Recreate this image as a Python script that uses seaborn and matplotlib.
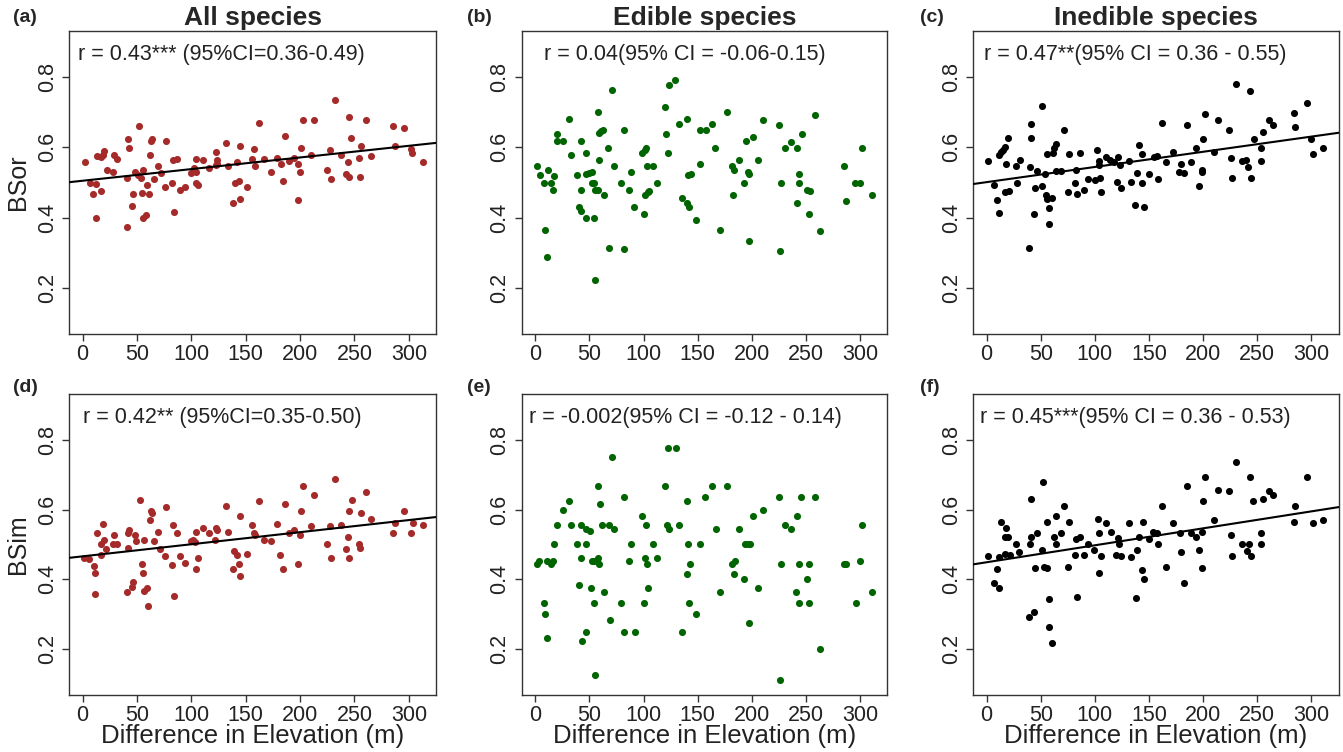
import matplotlib
matplotlib.use("Agg")
import matplotlib.pyplot as plt
import seaborn as sns
import pandas as pd

# ---------------- data ----------------
titles = ["All species", "Edible species", "Inedible species"]
row_labels = ["BSor", "BSim"]
panel_letters = ["(a)", "(b)", "(c)", "(d)", "(e)", "(f)"]
annotations = [
    "r = 0.43*** (95%CI=0.36-0.49)",
    "r = 0.04(95% CI = -0.06-0.15)",
    "r = 0.47**(95% CI = 0.36 - 0.55)",
    "r = 0.42** (95%CI=0.35-0.50)",
    "r = -0.002(95% CI = -0.12 - 0.14)",
    "r = 0.45***(95% CI = 0.36 - 0.53)",
]
xlabel = "Difference in Elevation (m)"
x_ticks = [0, 50, 100, 150, 200, 250, 300]
y_ticks = [0.2, 0.4, 0.6, 0.8]

# regression lines (intercept, slope)
line_intercepts = [0.505, None, 0.501, 0.466, None, 0.449]
line_slopes = [0.000332, None, 0.000433, 0.000347, None, 0.000487]

all_bsor = [(2,0.558),(7,0.50),(12,0.495),(10,0.466),(12,0.40),(13,0.575),(17,0.573),(19,0.577),
    (20,0.589),(17,0.475),(22,0.537),(28,0.529),(29,0.577),(32,0.566),(40.5,0.372),(41,0.514),
    (42,0.625),(43,0.599),(45,0.433),(46,0.468),(48,0.53),(51,0.521),(52,0.66),(54,0.513),
    (55,0.47),(56,0.535),(56,0.40),(58.5,0.406),(59,0.494),(61,0.466),(62,0.578),(62.5,0.618),
    (64,0.623),(65.5,0.511),(69.5,0.547),(72,0.526),(75.6,0.487),(76.5,0.619),(82,0.50),
    (83,0.564),(84,0.416),(87,0.568),(90,0.479),(94,0.487),(100,0.526),(102,0.54),(104,0.53),
    (104.5,0.567),(104.5,0.499),(106,0.494),(111,0.564),(116,0.541),(122.5,0.586),(124,0.563),
    (124,0.554),(123,0.549),(132,0.613),(134,0.547),(138,0.442),(140.5,0.50),(142,0.558),
    (144,0.505),(145,0.604),(145,0.453),(151,0.488),(155.5,0.566),(158,0.596),(159,0.547),
    (162.5,0.671),(167,0.568),(173,0.531),(179,0.57),(182,0.552),(184,0.505),(186,0.633),
    (190,0.56),(194,0.57),(198,0.552),(198,0.451),(200,0.531),(201,0.599),(203,0.678),
    (210,0.579),(213,0.678),(225,0.535),(228,0.511),(227.5,0.592),(232,0.734),(238,0.578),
    (242,0.524),(244,0.558),(245,0.517),(245,0.686),(247,0.628),(254,0.569),(255,0.517),
    (256,0.604),(261,0.679),(265.5,0.575),(285,0.66),(287,0.605),(296,0.655),(302,0.596),
    (303,0.585),(313,0.558)]

edible_bsor = [(1.2,0.547),(4,0.521),(8.5,0.5),(8.8,0.365),(10.7,0.288),(11.6,0.537),(14.3,0.5),
    (16,0.478),(17.4,0.518),(20,0.637),(19.8,0.619),(26,0.619),(31,0.682),(33,0.578),(39,0.521),
    (40,0.431),(42,0.619),(42.7,0.48),(42.7,0.418),(47,0.40),(47,0.585),(47,0.523),(50,0.527),
    (52,0.53),(52,0.5),(54,0.5),(54.6,0.40),(55,0.223),(55.5,0.478),(57.6,0.478),(58,0.70),
    (59,0.564),(59,0.642),(61,0.646),(63,0.651),(63.7,0.464),(67.4,0.599),(68.3,0.313),
    (71,0.764),(72.3,0.547),(79.3,0.5),(82,0.651),(82.3,0.31),(87,0.478),(88.7,0.529),
    (91.5,0.431),(98.5,0.585),(100.3,0.409),(101,0.592),(102.7,0.599),(101,0.464),(103,0.547),
    (103.7,0.473),(105,0.476),(108.5,0.547),(112,0.5),(120,0.716),(120.7,0.637),(123,0.585),
    (123.5,0.779),(129.3,0.791),(132.6,0.666),(135.7,0.456),(140,0.682),(140,0.442),(140.6,0.52),
    (142,0.43),(143.6,0.524),(148.8,0.392),(152,0.651),(152.4,0.554),(157.3,0.651),(162.8,0.666),
    (166,0.599),(171,0.365),(176.8,0.70),(181.7,0.547),(183.5,0.537),(183,0.464),(188,0.564),
    (192.4,0.50),(194.2,0.619),(196.4,0.53),(197.6,0.523),(197.3,0.334),(201,0.63),(205.5,0.564),
    (210,0.679),(225.3,0.665),(226.8,0.50),(226,0.305),(230.8,0.599),(236.6,0.615),(241.5,0.442),
    (242,0.599),(244,0.524),(244,0.50),(246,0.637),(251,0.478),(253.4,0.476),(253,0.409),
    (258,0.692),(262.5,0.363),(285.4,0.547),(287,0.447),(295.5,0.50),(300,0.50),(301.5,0.599),
    (311,0.464)]

inedible_bsor = [(1.5,0.561),(6.7,0.492),(10,0.45),(11.6,0.413),(11.6,0.578),(13.7,0.586),(15,0.594),
    (17.4,0.601),(16.8,0.473),(18.3,0.554),(20,0.628),(21,0.476),(27.4,0.547),(28,0.5),(30.8,0.564),
    (39.6,0.313),(40.5,0.545),(41.5,0.666),(41.5,0.628),(44,0.409),(45,0.485),(47,0.532),(51,0.491),
    (51.5,0.718),(53.7,0.523),(54.6,0.464),(55.5,0.452),(55.5,0.581),(58,0.427),(58,0.383),
    (60.4,0.455),(61,0.583),(62.5,0.598),(64.3,0.611),(64.6,0.532),(68.6,0.532),(71.3,0.649),
    (75,0.473),(76,0.582),(82,0.5),(82.3,0.535),(83.5,0.468),(86.3,0.585),(90,0.478),(93.6,0.509),
    (99.7,0.506),(102.4,0.594),(104,0.549),(103.7,0.561),(104.6,0.513),(105.5,0.474),(110.4,0.573),
    (114,0.564),(117.7,0.559),(120.4,0.501),(121.7,0.574),(123,0.55),(124,0.484),(132,0.56),
    (133,0.501),(137.5,0.437),(138.7,0.526),(140.5,0.606),(143.3,0.499),(144,0.581),(145.4,0.43),
    (150,0.523),(155,0.572),(157.6,0.575),(158.5,0.509),(162,0.671),(166,0.559),(172,0.586),
    (178,0.53),(179.6,0.554),(182.6,0.526),(185,0.665),(189,0.558),(193.6,0.599),(196,0.491),
    (198.5,0.535),(199.4,0.53),(200.3,0.624),(202,0.696),(210,0.588),(213.4,0.677),(223.5,0.651),
    (225.6,0.569),(227,0.513),(230,0.782),(236,0.561),(240,0.564),(241.8,0.544),(243,0.761),
    (244,0.513),(246.7,0.625),(253,0.598),(253.4,0.561),(255,0.644),(261,0.678),(264.7,0.665),
    (284,0.698),(285,0.659),(295.5,0.726),(300,0.624),(301,0.581),(311,0.599)]

all_bsim = [(1.5,0.462),(6,0.459),(10.4,0.438),(11.6,0.419),(11.6,0.357),(13,0.533),(16.8,0.469),
    (16.8,0.502),(19,0.56),(20,0.512),(21.6,0.488),(27.7,0.502),(29.3,0.527),(32,0.502),(40.5,0.364),
    (41.5,0.49),(42,0.533),(43,0.541),(45,0.379),(46,0.393),(48,0.526),(49.4,0.51),(52.4,0.627),
    (54.3,0.443),(55.5,0.419),(56.7,0.512),(56.7,0.367),(58.8,0.374),(60.4,0.324),(62,0.569),
    (62.8,0.597),(64,0.59),(65.6,0.511),(69.5,0.536),(71.6,0.488),(75.6,0.467),(76.5,0.607),
    (82.3,0.44),(83.2,0.557),(84,0.353),(87,0.532),(89.6,0.467),(94,0.446),(100,0.51),(101.5,0.512),
    (103,0.508),(104.6,0.536),(104.6,0.43),(106,0.46),(111,0.548),(116,0.533),(122,0.514),
    (123,0.546),(124,0.541),(132,0.61),(134,0.536),(138,0.43),(139.6,0.481),(141.8,0.471),
    (143.6,0.443),(145,0.581),(145,0.41),(151,0.474),(155.5,0.557),(158,0.533),(159,0.526),
    (162.5,0.624),(167,0.512),(173,0.51),(179,0.559),(181.7,0.469),(184,0.43),(186,0.617),
    (190,0.533),(194.5,0.541),(198,0.443),(200,0.527),(201,0.595),(203,0.667),(210,0.554),
    (213,0.641),(225,0.502),(227.5,0.554),(228,0.46),(232,0.689),(238,0.557),(242,0.488),
    (244,0.522),(245,0.46),(245,0.595),(247.5,0.627),(254,0.502),(255,0.491),(256,0.589),
    (261,0.651),(265.6,0.572),(285,0.532),(287,0.562),(296,0.595),(302,0.533),(303.4,0.562),
    (313,0.557)]

edible_bsim = [(1.2,0.443),(3.7,0.454),(8.5,0.332),(8.8,0.30),(10.7,0.231),(11.3,0.454),(14.3,0.443),
    (16.5,0.454),(17.4,0.502),(20,0.556),(25.6,0.60),(31,0.624),(33,0.556),(39,0.502),(40,0.384),
    (42,0.556),(42.7,0.46),(43,0.222),(47,0.502),(47,0.545),(47,0.25),(50.6,0.539),(51.8,0.376),
    (52,0.454),(54,0.454),(54.6,0.332),(55,0.125),(56.7,0.454),(57.6,0.46),(58,0.668),(59,0.443),
    (59.4,0.615),(61.6,0.556),(63.4,0.364),(68,0.556),(68.6,0.284),(71,0.75),(72.3,0.545),
    (79.6,0.332),(82,0.635),(82,0.25),(87,0.454),(88.7,0.502),(91.8,0.25),(99,0.583),(100,0.332),
    (101.2,0.46),(102.7,0.556),(103,0.443),(104,0.376),(108.5,0.502),(112.5,0.46),(120,0.668),
    (121.4,0.556),(123,0.778),(123.5,0.545),(129.6,0.778),(132.6,0.556),(135.7,0.25),(140.3,0.624),
    (140.3,0.416),(141.2,0.502),(142,0.332),(143,0.443),(148.8,0.30),(152.4,0.502),(157,0.635),
    (162.8,0.668),(166.5,0.545),(171,0.364),(176.8,0.668),(182,0.443),(183.2,0.416),(184,0.454),
    (188,0.545),(192.4,0.40),(194,0.502),(196.4,0.502),(198,0.502),(197.6,0.274),(201,0.583),
    (205.5,0.376),(210,0.60),(225.3,0.635),(226.8,0.443),(226,0.112),(230.8,0.556),(236.6,0.545),
    (240.9,0.364),(242,0.583),(243.6,0.332),(244,0.443),(245.8,0.635),(251,0.40),(253,0.443),
    (253,0.332),(258,0.635),(262.5,0.20),(284.8,0.443),(287,0.443),(296,0.332),(300,0.454),
    (301.5,0.556),(311,0.364)]

inedible_bsim = [(1.5,0.467),(6.7,0.39),(10,0.429),(11.6,0.375),(11.6,0.464),(13.7,0.564),(16.8,0.473),
    (17.4,0.522),(18.3,0.548),(19.8,0.522),(21.3,0.471),(27.4,0.502),(30,0.479),(39.6,0.292),
    (40.5,0.502),(41,0.522),(41.5,0.632),(44,0.307),(44.5,0.433),(47,0.532),(51,0.484),(52,0.679),
    (53,0.436),(55.5,0.565),(55.5,0.433),(58,0.343),(58,0.262),(60.4,0.217),(62,0.522),(64.3,0.581),
    (64.6,0.502),(68.6,0.532),(71.3,0.61),(75,0.436),(76,0.565),(82,0.469),(82.3,0.516),(83.2,0.348),
    (86.3,0.522),(90,0.469),(93.6,0.502),(99.4,0.484),(102.7,0.574),(103.4,0.534),(104.3,0.419),
    (105.8,0.467),(110.4,0.562),(115,0.537),(120,0.469),(121.7,0.518),(122,0.502),(124.4,0.467),
    (132,0.562),(133.2,0.464),(137.8,0.347),(138.7,0.484),(140.5,0.522),(143.3,0.427),(144.2,0.565),
    (145.4,0.40),(150,0.516),(154,0.537),(157.3,0.533),(158.2,0.502),(162,0.61),(166,0.435),
    (172.3,0.562),(178.7,0.532),(179.6,0.479),(182.6,0.39),(185,0.668),(188.4,0.532),(193.6,0.522),
    (196.4,0.484),(198.5,0.433),(199.4,0.537),(200.3,0.624),(202,0.693),(210,0.571),(213.4,0.656),
    (223.5,0.654),(225.6,0.527),(227,0.467),(230,0.738),(236.3,0.502),(240.3,0.481),(242.4,0.502),
    (243,0.693),(244.2,0.467),(246.4,0.624),(253,0.502),(253.4,0.532),(255,0.632),(261,0.654),
    (264.7,0.643),(284,0.565),(285,0.61),(295.5,0.693),(301,0.562),(311,0.571)]

panel_data = [all_bsor, edible_bsor, inedible_bsor, all_bsim, edible_bsim, inedible_bsim]
col_colors = ["#A52A2A", "#006400", "#000000"]

# ---------------- style ----------------
sns.set_style("ticks")
plt.rcParams["font.family"] = ["Liberation Sans", "DejaVu Sans"]

W, H = 1343, 752
fig = plt.figure(figsize=(W / 100, H / 100), dpi=100)

col_left = [69, 521.7, 973]
col_width = [367, 365.5, 365.5]
row_top = [31, 394]
row_bottom = [334, 695]
annot_x = [0.025, 0.061, 0.030, 0.038, 0.020, 0.019]

for i in range(6):
    r, c = divmod(i, 3)
    l = col_left[c] / W
    b = 1 - row_bottom[r] / H
    w = col_width[c] / W
    h = (row_bottom[r] - row_top[r]) / H
    ax = fig.add_axes([l, b, w, h])
    df = pd.DataFrame(panel_data[i], columns=["x", "y"])
    sns.scatterplot(data=df, x="x", y="y", color=col_colors[c], s=26,
                    linewidth=0, ax=ax, legend=False, zorder=2)
    if line_intercepts[i] is not None:
        ax.axline((0, line_intercepts[i]), slope=line_slopes[i],
                  color="black", lw=1.5, zorder=3)
    ax.set_xlim(-12.5, 325)
    ax.set_ylim(0.068, 0.932)
    ax.set_xticks(x_ticks)
    ax.set_xticklabels([str(t) for t in x_ticks], fontsize=15.5)
    ax.set_yticks(y_ticks)
    ax.set_yticklabels([f"{t:.1f}" for t in y_ticks], fontsize=15.5,
                       rotation=90, va="center")
    ax.set_xlabel("")
    ax.set_ylabel("")
    for sp in ax.spines.values():
        sp.set_visible(True)
        sp.set_color("#333333")
        sp.set_linewidth(1.0)
    ax.tick_params(axis="both", direction="out", length=5, width=1.0,
                   color="#333333", labelcolor="#222222")
    ax.tick_params(axis="x", pad=2.5)
    ax.tick_params(axis="y", pad=3)
    ax.text(annot_x[i], 0.921, annotations[i], transform=ax.transAxes,
            fontsize=15.5, ha="left", va="center", color="#222222")

    # panel letter
    ly = 18 if r == 0 else 388
    lx = [13, 467, 920][c]
    fig.text(lx / W, 1 - ly / H, panel_letters[i], fontsize=14,
             fontweight="bold", ha="left", va="center")

    cx = (col_left[c] + col_width[c] / 2) / W
    if r == 0:
        fig.text(cx, 1 - 18 / H, titles[c], fontsize=19, fontweight="bold",
                 ha="center", va="center")
    else:
        fig.text(cx, 1 - 736 / H, xlabel, fontsize=18.5, ha="center",
                 va="center", color="#222222")
    if c == 0:
        cy = 1 - (row_top[r] + row_bottom[r]) / 2 / H
        fig.text(18 / W, cy, row_labels[r], fontsize=18, rotation=90,
                 ha="center", va="center", color="#222222")

fig.savefig("out.png", dpi=100, facecolor="white")
